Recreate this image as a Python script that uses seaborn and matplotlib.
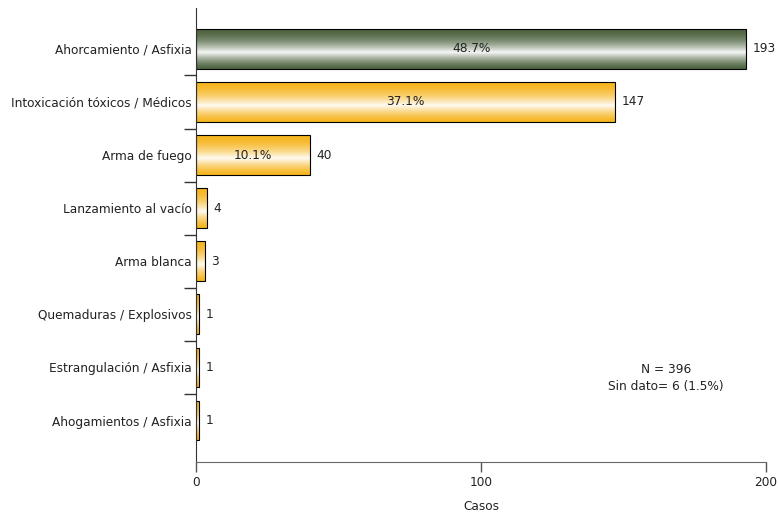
import numpy as np
import pandas as pd
import matplotlib
matplotlib.use("Agg")
import matplotlib.pyplot as plt
import seaborn as sns
from matplotlib.colors import to_rgb

# data
categorias = ["Ahorcamiento / Asfixia", "Intoxicación tóxicos / Médicos", "Arma de fuego",
              "Lanzamiento al vacío", "Arma blanca", "Quemaduras / Explosivos",
              "Estrangulación / Asfixia", "Ahogamientos / Asfixia"]
casos = [193, 147, 40, 4, 3, 1, 1, 1]
porcentajes = ["48.7%", "37.1%", "10.1%", "", "", "", "", ""]
nota = "N = 396\nSin dato= 6 (1.5%)"

df = pd.DataFrame({"Causa": categorias, "Casos": casos})

sns.set_style("white")
plt.rcParams["font.family"] = ["DejaVu Sans"]
fs = 8.7

fig = plt.figure(figsize=(7.78, 5.12), dpi=100)
ax = fig.add_axes([0.252, 0.0977, 0.7326, 0.8867])

sns.barplot(data=df, x="Casos", y="Causa", orient="h", width=0.75,
            color="#f7bb28", edgecolor="black", linewidth=0.8, ax=ax)

# cylinder-like shading: dark at top, white band, dark at bottom
def gradient(base, n=100):
    base = np.array(to_rgb(base))
    t = np.linspace(0, 1, n)
    # whiteness peaks around 58% down the bar
    w = np.where(t < 0.58, (t / 0.58) ** 1.8, ((1 - t) / 0.42) ** 1.4)
    w = np.clip(w, 0, 1) * 0.95
    rows = base[None, :] * (1 - w[:, None]) + w[:, None]
    return rows[:, None, :]

base_colors = ["#4e6340"] + ["#f6b51f"] * (len(casos) - 1)
for patch, c in zip(ax.patches, base_colors):
    x0, y0 = patch.get_x(), patch.get_y()
    w, h = patch.get_width(), patch.get_height()
    im = ax.imshow(gradient(c), extent=(x0, x0 + w, y0 + h, y0), origin="upper",
                   aspect="auto", zorder=1.5, interpolation="bilinear")
    im.set_clip_path(patch)
    patch.set_facecolor("none")
    patch.set_zorder(2)

ax.set_xlim(0, 200)
ax.set_ylim(7.78, -0.77)

for i, (v, p) in enumerate(zip(casos, porcentajes)):
    ax.text(v + 2.2, i, str(v), va="center", ha="left", fontsize=fs, color="#222222")
    if p:
        ax.text(v / 2, i, p, va="center", ha="center", fontsize=fs, color="#222222", zorder=3)

ax.text(165, 6.2, nota, ha="center", va="center", fontsize=fs, color="#222222", linespacing=1.4)

ax.set_xticks([0, 100, 200])
ax.set_yticks(np.arange(len(categorias)))
ax.set_yticklabels(categorias)
ax.tick_params(axis="y", which="major", left=True, length=0, labelsize=fs, pad=3, labelcolor="#222222")
ax.set_yticks(np.arange(len(categorias) - 1) + 0.5, minor=True)
ax.tick_params(axis="y", which="minor", left=True, length=9, width=1, color="#333333")
ax.tick_params(axis="x", bottom=True, length=7, width=1, color="#555555", labelsize=fs,
               labelcolor="#222222", pad=3)
ax.set_xlabel("Casos", fontsize=fs, labelpad=8, color="#222222")
ax.set_ylabel("")

for s in ["top", "right"]:
    ax.spines[s].set_visible(False)
ax.spines["left"].set_color("#333333")
ax.spines["bottom"].set_color("#666666")

plt.savefig("out.png", dpi=100)
